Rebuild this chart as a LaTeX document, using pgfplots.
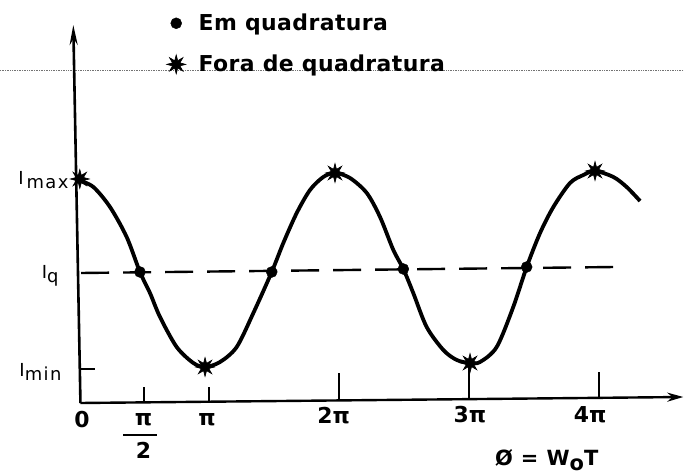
\documentclass[border=0pt]{standalone}
\usepackage{fontspec}
\setmainfont{DejaVu Sans}
\usepackage{pgfplots}
\pgfplotsset{compat=1.18}
\usetikzlibrary{arrows.meta}

% eight-pointed filled burst for the off-quadrature points
\pgfdeclareplotmark{burst}{%
  \pgfpathmoveto{\pgfpointpolar{0}{\pgfplotmarksize}}%
  \pgfpathlineto{\pgfpointpolar{22.5}{0.42\pgfplotmarksize}}%
  \pgfpathlineto{\pgfpointpolar{45}{\pgfplotmarksize}}%
  \pgfpathlineto{\pgfpointpolar{67.5}{0.42\pgfplotmarksize}}%
  \pgfpathlineto{\pgfpointpolar{90}{\pgfplotmarksize}}%
  \pgfpathlineto{\pgfpointpolar{112.5}{0.42\pgfplotmarksize}}%
  \pgfpathlineto{\pgfpointpolar{135}{\pgfplotmarksize}}%
  \pgfpathlineto{\pgfpointpolar{157.5}{0.42\pgfplotmarksize}}%
  \pgfpathlineto{\pgfpointpolar{180}{\pgfplotmarksize}}%
  \pgfpathlineto{\pgfpointpolar{202.5}{0.42\pgfplotmarksize}}%
  \pgfpathlineto{\pgfpointpolar{225}{\pgfplotmarksize}}%
  \pgfpathlineto{\pgfpointpolar{247.5}{0.42\pgfplotmarksize}}%
  \pgfpathlineto{\pgfpointpolar{270}{\pgfplotmarksize}}%
  \pgfpathlineto{\pgfpointpolar{292.5}{0.42\pgfplotmarksize}}%
  \pgfpathlineto{\pgfpointpolar{315}{\pgfplotmarksize}}%
  \pgfpathlineto{\pgfpointpolar{337.5}{0.42\pgfplotmarksize}}%
  \pgfpathclose
  \pgfusepathqfillstroke
}

\newcommand{\lbl}{\bfseries\fontsize{22}{24}\selectfont}
\newcommand{\ilbl}{\fontsize{18}{20}\selectfont\addfontfeatures{LetterSpace=8}}

\begin{document}
\begin{tikzpicture}
\begin{axis}[
  name=ax,
  scale only axis, width=684bp, height=475bp,
  xmin=-0.6029, xmax=4.6505, ymin=-72, ymax=403,
  hide axis, clip=false,
  legend style={at={(axis cs:0.676,391)}, anchor=north west, draw=none, fill=none,
    font=\bfseries\fontsize{22}{24}\selectfont\addfontfeatures{LetterSpace=2},
    row sep=19bp, column sep=11bp, inner sep=0pt},
  legend cell align=left,
]
% faint dotted rule across the sheet
\draw[densely dotted, black!55, line width=0.7bp] (axis cs:-0.6029,333) -- (axis cs:4.6505,333);

% axes (drawn freehand, slightly out of true)
\draw[line width=2.6bp, -{Stealth[length=20bp,width=8bp]}] (axis cs:0.015,0) -- (axis cs:-0.04,378);
\draw[line width=2.4bp, -{Stealth[length=16bp,width=9bp]}] (axis cs:0.015,0) -- (axis cs:4.645,6);

% ticks
\draw[line width=2.2bp] (axis cs:0.5,0) -- (axis cs:0.5,16);
\draw[line width=2.2bp] (axis cs:1,0) -- (axis cs:1,16);
\draw[line width=2.2bp] (axis cs:2,2) -- (axis cs:2,30);
\draw[line width=2.2bp] (axis cs:3,4) -- (axis cs:3,38);
\draw[line width=2.2bp] (axis cs:4,6) -- (axis cs:4,31);
\draw[line width=2.2bp] (axis cs:0.012,34) -- (axis cs:0.125,34);

% I(phi): fringe intensity versus phase
\addplot[smooth, line width=3.8bp, black, forget plot] coordinates {
  (0,223) (0.114,216) (0.242,196) (0.370,166) (0.472,131) (0.549,110)
  (0.626,86) (0.754,56) (0.882,40) (0.972,36) (1.087,41) (1.215,56)
  (1.343,90) (1.484,131) (1.573,160) (1.676,190) (1.778,213) (1.880,226)
  (1.970,230) (2.085,225) (2.214,210) (2.316,186) (2.418,153) (2.495,134)
  (2.571,110) (2.674,76) (2.802,53) (2.905,43) (3.007,40) (3.084,41)
  (3.212,56) (3.339,96) (3.442,136) (3.545,170) (3.647,196) (3.775,220)
  (3.878,228) (3.967,232) (4.108,226) (4.210,216) (4.313,202)
};

% quadrature level I_q
\addplot[line width=2.4bp, black, dash pattern=on 28bp off 14bp, forget plot]
  coordinates {(0.02,130) (4.122,136)};

% operating points
\addplot[only marks, mark=*, mark size=5.5bp, black] coordinates {
  (0.472,131) (1.484,131) (2.495,134) (3.442,136)
};
\addlegendentry{Em quadratura}
\addplot[only marks, mark=burst, mark size=9.5bp, black, line width=0.6bp] coordinates {
  (0.01,224) (0.972,36) (1.970,230) (3.007,40) (3.967,232)
};
\addlegendentry{Fora de quadratura}

% tick labels
\node[font=\lbl] at (axis cs:0.027,-17) {0};
\node[font=\lbl] at (axis cs:0.50,-17) {π};
\draw[line width=1.8bp] (axis cs:0.345,-32) -- (axis cs:0.600,-32);
\node[font=\lbl] at (axis cs:0.50,-47) {2};
\node[font=\lbl] at (axis cs:0.987,-17) {π};
\node[font=\lbl] at (axis cs:1.96,-13) {2π};
\node[font=\lbl] at (axis cs:3.007,-12) {3π};
\node[font=\lbl] at (axis cs:3.93,-12) {4π};
\node[font=\bfseries\fontsize{21}{23}\selectfont\addfontfeatures{LetterSpace=4}] at (axis cs:3.596,-57)
  {Ø = W\raisebox{-0.45ex}{o}T};

% level labels
\node[font=\ilbl, anchor=east] at (axis cs:-0.05,223) {I\,\raisebox{-0.4ex}{max}};
\node[font=\ilbl, anchor=east] at (axis cs:-0.127,127) {I\raisebox{-0.4ex}{q}};
\node[font=\ilbl, anchor=east] at (axis cs:-0.104,31) {I\raisebox{-0.4ex}{min}};
\end{axis}
\pgfresetboundingbox
\useasboundingbox (ax.south west) rectangle (ax.north east);
\end{tikzpicture}
\end{document}
